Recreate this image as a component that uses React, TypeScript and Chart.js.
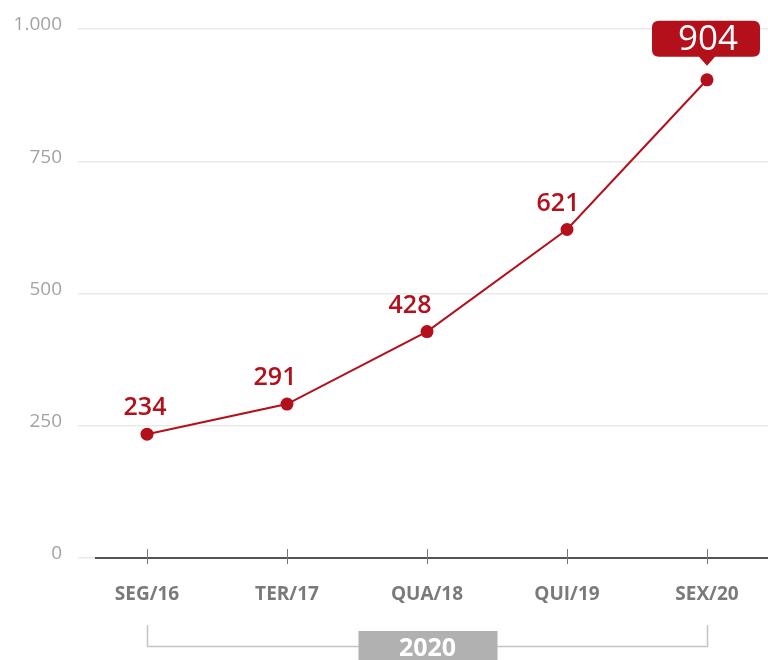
import React, { useEffect, useRef } from "react";
import { Chart, registerables } from "chart.js";

Chart.register(...registerables);

const categories = ["SEG/16", "TER/17", "QUA/18", "QUI/19", "SEX/20"];
const values = [234, 291, 428, 621, 904];
const yTicks = [0, 250, 500, 750, 1000];
const yearLabel = "2020";

const RED = "#b3101b";
const FONT = "'Open Sans', 'Noto Sans', sans-serif";

const labelOffsets = [-2, -12, -17, -9];

const decorPlugin = {
  id: "decor",
  beforeDatasetsDraw(chart: any) {
    const { ctx, chartArea, scales } = chart;
    const x = scales.x;
    const y0 = scales.y.getPixelForValue(0);
    ctx.save();
    // axis line
    ctx.strokeStyle = "#555";
    ctx.lineWidth = 2;
    ctx.beginPath();
    ctx.moveTo(chartArea.left + 17, y0);
    ctx.lineTo(chartArea.right, y0);
    ctx.stroke();
    // tick marks
    ctx.strokeStyle = "#777";
    ctx.lineWidth = 1;
    categories.forEach((_, i) => {
      const px = Math.round(x.getPixelForValue(i)) + 0.5;
      ctx.beginPath();
      ctx.moveTo(px, y0 - 9);
      ctx.lineTo(px, y0 + 6);
      ctx.stroke();
    });
    // bracket
    const xa = Math.round(x.getPixelForValue(0)) + 0.5;
    const xb = Math.round(x.getPixelForValue(categories.length - 1)) + 0.5;
    const by = 646.5;
    ctx.strokeStyle = "#c4c4c4";
    ctx.lineWidth = 1.5;
    ctx.beginPath();
    ctx.moveTo(xa, 625);
    ctx.lineTo(xa, by);
    ctx.lineTo(xb, by);
    ctx.lineTo(xb, 625);
    ctx.stroke();
    // year box
    const cx = (xa + xb) / 2;
    ctx.fillStyle = "#b1b1b1";
    ctx.fillRect(cx - 69, 631, 139, 40);
    ctx.fillStyle = "#ffffff";
    ctx.font = `bold 25px ${FONT}`;
    ctx.textAlign = "center";
    ctx.textBaseline = "middle";
    ctx.fillText(yearLabel, cx, 649);
    ctx.restore();
  },
  afterDatasetsDraw(chart: any) {
    const { ctx } = chart;
    const meta = chart.getDatasetMeta(0);
    ctx.save();
    ctx.textAlign = "center";
    ctx.textBaseline = "middle";
    meta.data.forEach((pt: any, i: number) => {
      const v = values[i];
      if (i < values.length - 1) {
        ctx.fillStyle = RED;
        ctx.font = `600 25px ${FONT}`;
        ctx.fillText(String(v), pt.x + labelOffsets[i], pt.y - 26);
      } else {
        const w = 108, h = 36, r = 7;
        const bx = pt.x - 55, byTop = pt.y - 59;
        ctx.fillStyle = RED;
        ctx.beginPath();
        ctx.moveTo(bx + r, byTop);
        ctx.lineTo(bx + w - r, byTop);
        ctx.quadraticCurveTo(bx + w, byTop, bx + w, byTop + r);
        ctx.lineTo(bx + w, byTop + h - r);
        ctx.quadraticCurveTo(bx + w, byTop + h, bx + w - r, byTop + h);
        ctx.lineTo(pt.x + 8, byTop + h);
        ctx.lineTo(pt.x, byTop + h + 9);
        ctx.lineTo(pt.x - 8, byTop + h);
        ctx.lineTo(bx + r, byTop + h);
        ctx.quadraticCurveTo(bx, byTop + h, bx, byTop + h - r);
        ctx.lineTo(bx, byTop + r);
        ctx.quadraticCurveTo(bx, byTop, bx + r, byTop);
        ctx.closePath();
        ctx.fill();
        ctx.fillStyle = "#ffffff";
        ctx.font = `35px ${FONT}`;
        ctx.fillText(String(v), pt.x + 1, byTop + h / 2 + 1);
      }
    });
    ctx.restore();
  },
};

export default function App() {
  const ref = useRef<HTMLCanvasElement>(null);
  useEffect(() => {
    document.body.style.margin = "0";
    const chart = new Chart(ref.current!, {
      type: "line",
      data: {
        datasets: [
          {
            data: values.map((v, i) => ({ x: i, y: v })),
            borderColor: RED,
            backgroundColor: RED,
            borderWidth: 2,
            pointRadius: 6.5,
            pointBackgroundColor: RED,
            pointBorderWidth: 0,
            tension: 0,
            clip: false,
          },
        ],
      },
      options: {
        animation: false,
        responsive: false,
        layout: { autoPadding: false, padding: { top: 29, right: 0, left: 0, bottom: 0 } },
        plugins: { legend: { display: false }, tooltip: { enabled: false } },
        scales: {
          x: {
            type: "linear",
            min: -0.4929,
            max: 4.4357,
            afterBuildTicks: (s: any) => {
              s.ticks = categories.map((_, i) => ({ value: i }));
            },
            afterFit: (s: any) => {
              s.height = 102;
              s.paddingLeft = 0;
              s.paddingRight = 0;
            },
            grid: { display: false, drawTicks: false },
            border: { display: false },
            ticks: {
              autoSkip: false,
              maxRotation: 0,
              padding: 25,
              color: "#7a7a7a",
              font: { family: FONT, size: 19, weight: "bold" },
              callback: (v: any) => categories[v as number] ?? "",
            },
          },
          y: {
            min: 0,
            max: 1000,
            afterBuildTicks: (s: any) => {
              s.ticks = yTicks.map((v) => ({ value: v }));
            },
            afterFit: (s: any) => {
              s.width = 78;
              s.paddingTop = 0;
              s.paddingBottom = 0;
            },
            grid: { color: "#e9e9e9", lineWidth: 1.5, drawTicks: false },
            border: { display: false },
            ticks: {
              padding: 16,
              labelOffset: -4,
              color: "#a3a3a3",
              font: { family: FONT, size: 19 },
              callback: (v: any) => Number(v).toLocaleString("de-DE"),
            },
          },
        },
      },
      plugins: [decorPlugin],
    } as any);
    return () => chart.destroy();
  }, []);
  return <canvas ref={ref} width={768} height={660} style={{ display: "block" }} />;
}
